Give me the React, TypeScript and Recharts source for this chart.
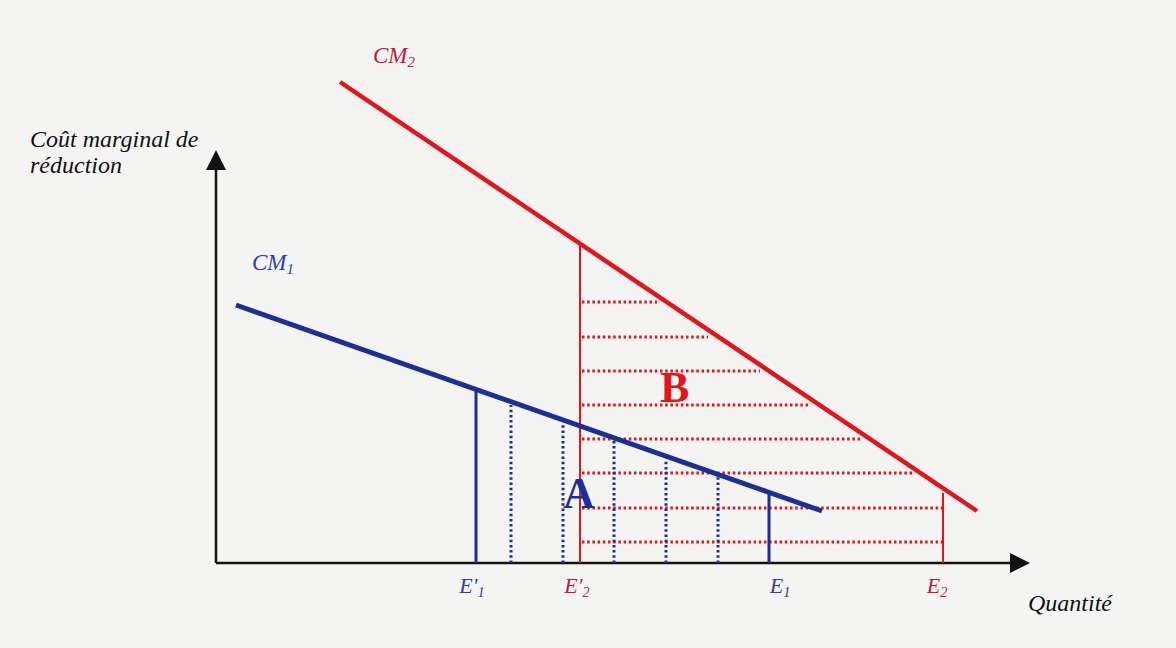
import { ComposedChart, Line, XAxis, YAxis, ReferenceLine, ReferenceDot } from "recharts";

// marginal abatement cost curves (quantity q, cost c)
const cm1 = [
  { q: 20, c: 258 },
  { q: 606, c: 52 },
];
const cm2 = [
  { q: 124, c: 481 },
  { q: 761, c: 52 },
];

// solid droplines from the axis up to the curve
const blueDrops = [
  { q: 260, c: 173 },
  { q: 553, c: 70 },
];
const redDrops = [
  { q: 364, c: 317 },
  { q: 727, c: 70 },
];

// hatching of area A (vertical, blue) and B (horizontal, red)
const blueHatch = [
  { q: 295, c: 158 },
  { q: 347, c: 140 },
  { q: 398, c: 122 },
  { q: 450, c: 104 },
  { q: 502, c: 86 },
];
const redHatchFrom = 366;
const redHatch = [
  { c: 261, to: 441 },
  { c: 226, to: 492 },
  { c: 192, to: 544 },
  { c: 158, to: 594 },
  { c: 124, to: 646 },
  { c: 90, to: 697 },
  { c: 55, to: 727 },
  { c: 21, to: 727 },
];

// quantity labels under the axis (where they sit as printed)
const qLabels = [
  { q: 256, name: "E'", sub: "1", curve: 1 },
  { q: 361, name: "E'", sub: "2", curve: 2 },
  { q: 564, name: "E", sub: "1", curve: 1 },
  { q: 721, name: "E", sub: "2", curve: 2 },
];

const BLUE = "#1c2f98";
const RED = "#e3141c";
const RED_TXT = "#c8173a";
const BLUE_TXT = "#2a3fae";
const FONT = "'Liberation Serif', 'DejaVu Serif', serif";

const arrow = (p: any) => {
  const { x1, y1, x2, y2 } = p;
  const ang = Math.atan2(y2 - y1, x2 - x1);
  const len = 20;
  const half = 10;
  const bx = x2 - len * Math.cos(ang);
  const by = y2 - len * Math.sin(ang);
  const px = -Math.sin(ang) * half;
  const py = Math.cos(ang) * half;
  return (
    <g>
      <line x1={x1} y1={y1} x2={bx} y2={by} stroke="#111" strokeWidth={2.5} />
      <polygon points={`${x2},${y2} ${bx + px},${by + py} ${bx - px},${by - py}`} fill="#111" />
    </g>
  );
};

const textAt = (text: string, sub: string | null, opts: any) => (p: any) => (
  <text
    x={p.cx}
    y={p.cy}
    fill={opts.fill}
    fontFamily={FONT}
    fontSize={opts.size}
    fontStyle={opts.italic ? "italic" : "normal"}
    fontWeight={opts.bold ? "bold" : "normal"}
    textAnchor={opts.anchor || "start"}
  >
    {text}
    {sub && (
      <tspan fontSize={opts.size * 0.65} dy={4}>
        {sub}
      </tspan>
    )}
  </text>
);

export default function App() {
  return (
    <div style={{ position: "absolute", left: 0, top: 0, width: 1176, height: 648, background: "#f4f4f2" }}>
      <ComposedChart width={1176} height={648} margin={{ top: 43, right: 40, bottom: 85, left: 216 }}>
        <XAxis dataKey="q" type="number" domain={[0, 920]} hide allowDataOverflow />
        <YAxis dataKey="c" type="number" domain={[0, 520]} hide allowDataOverflow />

        {/* axes with arrowheads */}
        <ReferenceLine segment={[{ x: 0, y: 0 }, { x: 814, y: 0 }]} shape={arrow} ifOverflow="visible" />
        <ReferenceLine segment={[{ x: 0, y: 0 }, { x: 0, y: 413 }]} shape={arrow} ifOverflow="visible" />

        {redHatch.map((h, i) => (
          <ReferenceLine
            key={`rh-${i}`}
            segment={[{ x: redHatchFrom, y: h.c }, { x: h.to, y: h.c }]}
            stroke={RED}
            strokeWidth={3}
            strokeDasharray="2.5 2.7"
            ifOverflow="visible"
          />
        ))}
        {blueHatch.map((h, i) => (
          <ReferenceLine
            key={`bh-${i}`}
            segment={[{ x: h.q, y: 0 }, { x: h.q, y: h.c }]}
            stroke={BLUE}
            strokeWidth={3}
            strokeDasharray="2.5 2.7"
            ifOverflow="visible"
          />
        ))}
        {redDrops.map((d, i) => (
          <ReferenceLine
            key={`rd-${i}`}
            segment={[{ x: d.q, y: 0 }, { x: d.q, y: d.c }]}
            stroke={RED}
            strokeWidth={2}
            ifOverflow="visible"
          />
        ))}
        {blueDrops.map((d, i) => (
          <ReferenceLine
            key={`bd-${i}`}
            segment={[{ x: d.q, y: 0 }, { x: d.q, y: d.c }]}
            stroke={BLUE}
            strokeWidth={3}
            ifOverflow="visible"
          />
        ))}

        <Line data={cm2} dataKey="c" stroke={RED} strokeWidth={4.5} dot={false} isAnimationActive={false} />
        <Line data={cm1} dataKey="c" stroke={BLUE} strokeWidth={5} dot={false} isAnimationActive={false} />

        {/* texts */}
        <ReferenceDot x={-186} y={416} ifOverflow="visible" shape={textAt("Coût marginal de", null, { fill: "#111", size: 24, italic: true })} />
        <ReferenceDot x={-186} y={390} ifOverflow="visible" shape={textAt("réduction", null, { fill: "#111", size: 24, italic: true })} />
        <ReferenceDot x={157} y={500} ifOverflow="visible" shape={textAt("CM", "2", { fill: RED_TXT, size: 23, italic: true })} />
        <ReferenceDot x={36} y={293} ifOverflow="visible" shape={textAt("CM", "1", { fill: BLUE_TXT, size: 23, italic: true })} />
        <ReferenceDot x={444} y={161} ifOverflow="visible" shape={textAt("B", null, { fill: RED, size: 44, bold: true })} />
        <ReferenceDot x={347} y={55} ifOverflow="visible" shape={textAt("A", null, { fill: BLUE, size: 44, bold: true })} />
        {qLabels.map((l, i) => (
          <ReferenceDot
            key={`ql-${i}`}
            x={l.q}
            y={-30}
            ifOverflow="visible"
            shape={textAt(l.name, l.sub, { fill: l.curve === 1 ? BLUE_TXT : RED_TXT, size: 22, italic: true, anchor: "middle" })}
          />
        ))}
        <ReferenceDot x={812} y={-48} ifOverflow="visible" shape={textAt("Quantité", null, { fill: "#111", size: 24, italic: true })} />
      </ComposedChart>
    </div>
  );
}
